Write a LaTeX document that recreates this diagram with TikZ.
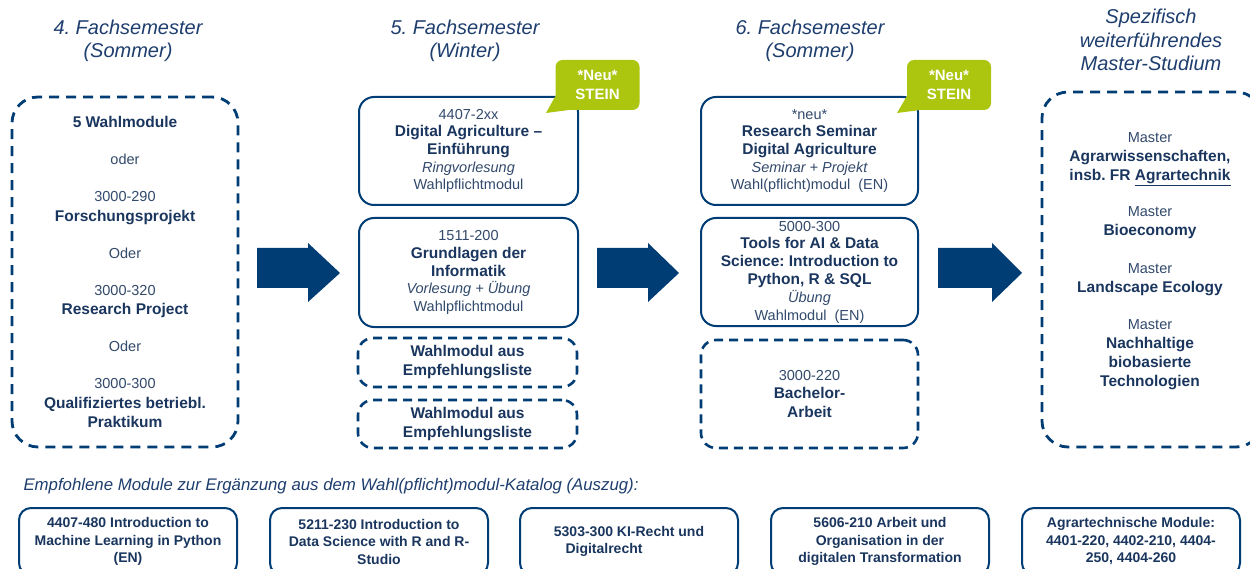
\documentclass[tikz,border=0pt]{standalone}
\usepackage{fontspec}
\setmainfont{Liberation Sans}
\frenchspacing
\definecolor{lineblue}{RGB}{0,61,116}
\definecolor{textblue}{RGB}{26,54,94}
\definecolor{textreg}{RGB}{50,74,108}
\definecolor{titleblue}{RGB}{30,62,110}
\definecolor{calloutgreen}{RGB}{172,198,16}
\newcommand\regtxt[1]{{\fontsize{14.5}{17.6}\selectfont\color{textreg}#1}}
\begin{document}
\begin{tikzpicture}[x=1pt,y=-1pt,
  every node/.style={text=textblue},
  solidbox/.style={draw=lineblue, line width=2pt, rounded corners=15pt, inner sep=0pt, align=center, font=\fontsize{15.5}{17.6}\selectfont},
  dashbox/.style={draw=lineblue, line width=2.6pt, dash pattern=on 9pt off 6pt, rounded corners=15pt, inner sep=0pt, align=center, font=\fontsize{15.5}{17.6}\selectfont},
  titletxt/.style={align=center, font=\fontsize{20}{22.5}\selectfont\itshape, text=titleblue},
  calloutbox/.style={fill=calloutgreen, rounded corners=7pt, text=white, font=\fontsize{15}{19}\selectfont\bfseries, align=center, inner sep=0pt, minimum width=84pt, minimum height=50pt},
  blockarrow/.style={fill=lineblue},
  botbox/.style={draw=lineblue, line width=2pt, rounded corners=12pt, inner sep=0pt, align=center, minimum width=218pt, minimum height=67pt, font=\fontsize{14}{17.5}\selectfont\bfseries}
]
\useasboundingbox (0,0) rectangle (1250,569);
\fill[white] (0,0) rectangle (1250,569);

% titles
\node[titletxt] (t1) at (128,41) {4. Fachsemester\\(Sommer)};
\node[titletxt] (t2) at (465,41) {5. Fachsemester\\(Winter)};
\node[titletxt] (t3) at (810,41) {6. Fachsemester\\(Sommer)};
\node[titletxt, font=\fontsize{20}{23.5}\selectfont\itshape] (t4) at (1151,40) {Spezifisch\\weiterführendes\\Master-Studium};

% column 1
\node[dashbox, line width=2.8pt, dash pattern=on 10pt off 7pt, rounded corners=26pt, minimum width=226pt, minimum height=350pt, font=\fontsize{15.5}{19.5}\selectfont] (c0) at (125,272)
 {\textbf{5 Wahlmodule}\\[17.5pt]
  \regtxt{oder}\\[17.5pt]
  \regtxt{3000-290}\\ \textbf{Forschungsprojekt}\\[17.5pt]
  \regtxt{Oder}\\[17.5pt]
  \regtxt{3000-320}\\ \textbf{Research Project}\\[17.5pt]
  \regtxt{Oder}\\[17.5pt]
  \regtxt{3000-300}\\ \textbf{Qualifiziertes betriebl.}\\ \textbf{Praktikum}};

% column 2
\node[solidbox, minimum width=219pt, minimum height=108pt] (a1) at (468.5,151)
 {\regtxt{4407-2xx}\\ \textbf{Digital Agriculture –}\\ \textbf{Einführung}\\ \regtxt{\itshape Ringvorlesung}\\ \regtxt{Wahlpflichtmodul}};
\node[solidbox, minimum width=219pt, minimum height=109pt] (a2) at (468.5,272.5)
 {\regtxt{1511-200}\\ \textbf{Grundlagen der}\\ \textbf{Informatik}\\ \regtxt{\itshape Vorlesung + Übung}\\ \regtxt{Wahlpflichtmodul}};
\node[dashbox, minimum width=219pt, minimum height=49pt, font=\fontsize{15.5}{19}\selectfont\bfseries] (a3) at (467.5,362.5)
 {Wahlmodul aus\\Empfehlungsliste};
\node[dashbox, minimum width=219pt, minimum height=48pt, font=\fontsize{15.5}{19}\selectfont\bfseries] (a4) at (467.5,424)
 {Wahlmodul aus\\Empfehlungsliste};

% column 3
\node[solidbox, minimum width=217pt, minimum height=108pt] (b1) at (809.5,151)
 {\regtxt{*neu*}\\ \textbf{Research Seminar}\\ \textbf{Digital Agriculture}\\ \regtxt{\itshape Seminar + Projekt}\\ \regtxt{Wahl(pflicht)modul\ \ (EN)}};
\node[solidbox, minimum width=217pt, minimum height=108pt, font=\fontsize{15.5}{17.8}\selectfont] (b2) at (809.5,272)
 {\regtxt{5000-300}\\ \textbf{Tools for AI \& Data}\\ \textbf{Science: Introduction to}\\ \textbf{Python, R \& SQL}\\ \regtxt{\itshape Übung}\\ \regtxt{Wahlmodul\ \ (EN)}};
\node[dashbox, minimum width=217pt, minimum height=108pt, font=\fontsize{15.5}{18.5}\selectfont] (b3) at (809.5,394)
 {\regtxt{3000-220}\\ \textbf{Bachelor-}\\ \textbf{Arbeit}};

% master column
\node[dashbox, line width=2.8pt, dash pattern=on 10pt off 7pt, rounded corners=26pt, minimum width=220pt, minimum height=355pt] (m0) at (1152,269.5) {};
\node[align=center, font=\fontsize{15.5}{19}\selectfont] (m1) at (1150,261)
 {\regtxt{Master}\\ \textbf{Agrarwissenschaften,}\\ \textbf{insb. FR \underline{Agrartechnik}}\\[17.5pt]
  \regtxt{Master}\\ \textbf{Bioeconomy}\\[18.5pt]
  \regtxt{Master}\\ \textbf{Landscape Ecology}\\[18.5pt]
  \regtxt{Master}\\ \textbf{Nachhaltige}\\ \textbf{biobasierte}\\ \textbf{Technologien}};

% callouts
\node[calloutbox] (n1) at (597.5,85) {*Neu*\\STEIN};
\fill[calloutgreen] ([yshift=14pt]n1.south west) -- (546,113) -- ([xshift=12pt]n1.south west) -- cycle;
\node[calloutbox] (n2) at (949,85) {*Neu*\\STEIN};
\fill[calloutgreen] ([yshift=14pt]n2.south west) -- (897,113) -- ([xshift=12pt]n2.south west) -- cycle;

% block arrows
\fill[blockarrow] (257,248) -- (308,248) -- (308,243) -- (340,273) -- (308,302) -- (308,288) -- (257,288) -- cycle;
\fill[blockarrow] (597,248) -- (648,248) -- (648,243) -- (679,273) -- (648,302) -- (648,288) -- (597,288) -- cycle;
\fill[blockarrow] (938,248) -- (992,248) -- (992,243) -- (1022,273) -- (992,302) -- (992,288) -- (938,288) -- cycle;

% bottom
\node[anchor=west, font=\fontsize{16.8}{18}\selectfont\itshape, text=titleblue] (cap) at (20,486)
 {Empfohlene Module zur Ergänzung aus dem Wahl(pflicht)modul-Katalog (Auszug):};
\node[botbox] (d1) at (128,541.5) {4407-480 Introduction to\\Machine Learning in Python\\(EN)};
\node[botbox] (d2) at (379,541.5) {5211-230 Introduction to\\Data Science with R and R-\\Studio};
\node[botbox] (d3) at (629,541.5) {5303-300 KI-Recht und\\\hspace*{-50pt}Digitalrecht};
\node[botbox] (d4) at (880,541.5) {5606-210 Arbeit und\\Organisation in der\\digitalen Transformation};
\node[botbox] (d5) at (1131,541.5) {Agrartechnische Module:\\4401-220, 4402-210, 4404-\\250, 4404-260};
\end{tikzpicture}
\end{document}
